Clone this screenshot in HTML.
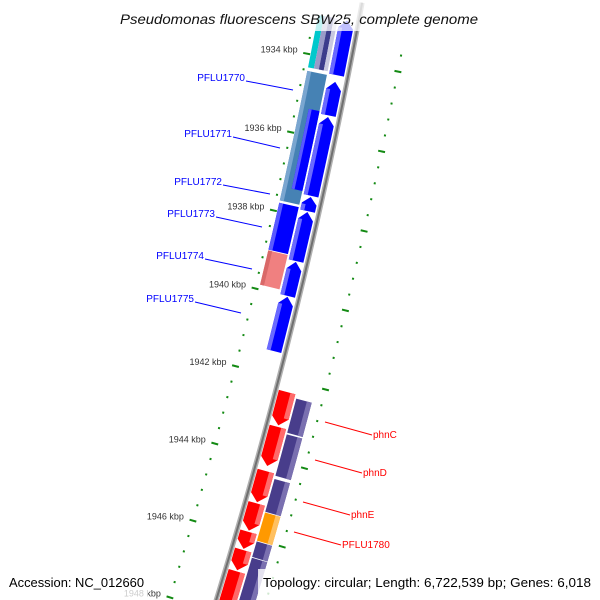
<!DOCTYPE html>
<html><head><meta charset="utf-8"><style>
html,body{margin:0;padding:0;background:#fff;width:600px;height:600px;overflow:hidden;}
svg{display:block;font-family:"Liberation Sans",sans-serif;overflow:hidden;}
</style></head><body>
<svg id="chart" width="600" height="600" viewBox="0 0 600 600" xmlns="http://www.w3.org/2000/svg">
<g id="rulers"></g>
<g id="backbone"></g>
<g id="features"></g>
<g id="labels"></g>
<rect x="112" y="0" width="376" height="31" fill="#fff" opacity="0.75"/>
<text x="120" y="24" font-size="14" font-style="italic" fill="#111" textLength="358" lengthAdjust="spacingAndGlyphs">Pseudomonas fluorescens SBW25, complete genome</text>
<rect x="0" y="570" width="148" height="30" fill="#fff" opacity="0.75"/>
<rect x="258" y="569" width="342" height="31" fill="#fff" opacity="0.8"/>
<text x="9" y="587" font-size="13" fill="#000" textLength="135" lengthAdjust="spacingAndGlyphs">Accession: NC_012660</text>
<text x="263" y="587" font-size="13" fill="#000" textLength="328" lengthAdjust="spacingAndGlyphs">Topology: circular; Length: 6,722,539 bp; Genes: 6,018</text>
</svg>
<script>
// ---- data (kbp) ----
const trackAStarts = [1933.0, 1934.55, 1935.44, 1937.47, 1937.85, 1939.12, 1940.01];
const trackAEnds   = [1934.38, 1935.40, 1937.44, 1937.83, 1939.10, 1939.99, 1941.40];
const stackStart = 1933.0, stackEnd = 1934.33;
const steelStart = 1934.42, steelEnd = 1937.72;
const gene1771Start = 1935.34, gene1771End = 1937.37;
const trackBStarts = [1937.78, 1939.00];
const trackBEnds   = [1938.98, 1939.88];
const trackBColors = ["blue", "pink"];
const trackCStarts = [1942.30, 1943.19, 1944.32, 1945.15, 1945.88, 1946.35, 1946.90];
const trackCEnds   = [1943.15, 1944.19, 1945.12, 1945.85, 1946.32, 1946.87, 1947.90];
const trackDStarts = [1942.40, 1943.31, 1944.45, 1945.31, 1946.05, 1946.47];
const trackDEnds   = [1943.27, 1944.37, 1945.29, 1946.03, 1946.45, 1947.90];
const trackDColors = ["purple", "purple", "purple", "orange", "purple", "purple"];
const majorTicks = [1934, 1936, 1938, 1940, 1942, 1944, 1946, 1948];
const tickLabels = ["1934 kbp","1936 kbp","1938 kbp","1940 kbp","1942 kbp","1944 kbp","1946 kbp","1948 kbp"];
const rulerStart = 1933.6, rulerEnd = 1948.8, rulerStep = 0.4;

// ---- geometry ----
const CX = -4946, CY = -978, T0 = 0.19393, DT = 0.0074857;
function P(k, r){ const t = T0 + (k - 1934) * DT; return [CX + r*Math.cos(t), CY + r*Math.sin(t)]; }
const NS = "http://www.w3.org/2000/svg";
function mk(tag, parent, attrs){ const e = document.createElementNS(NS, tag); for (const a in attrs) e.setAttribute(a, attrs[a]); parent.appendChild(e); return e; }
function pts(list){ return list.map(p => p[0].toFixed(2)+","+p[1].toFixed(2)).join(" "); }
function band(k1, k2, r1, r2){
  const a = [], n = 6;
  for (let i=0;i<=n;i++) a.push(P(k1+(k2-k1)*i/n, r1));
  for (let i=n;i>=0;i--) a.push(P(k1+(k2-k1)*i/n, r2));
  return pts(a);
}
function arrow(k1, k2, r1, r2, dir){
  const tl = Math.min(0.2, (k2-k1)*0.5), rm = (r1+r2)/2;
  if (dir < 0) return pts([P(k2,r1),P(k2,r2),P(k1+tl,r2),P(k1,rm),P(k1+tl,r1)]);
  return pts([P(k1,r1),P(k1,r2),P(k2-tl,r2),P(k2,rm),P(k2-tl,r1)]);
}
const gR = document.getElementById('rulers'), gB = document.getElementById('backbone'), gF = document.getElementById('features'), gL = document.getElementById('labels');

[[5353,'left'],[5446,'right']].forEach(([R, side]) => {
  const n = Math.round((rulerEnd - rulerStart)/rulerStep);
  for (let i=0;i<=n;i++){
    const k = rulerStart + i*rulerStep;
    const major = majorTicks.some(m => Math.abs(m-k) < 0.01);
    const h = major ? 3.5 : 1;
    const a = P(k, R-h), b = P(k, R+h);
    const ln = mk('line', gR, {x1:a[0],y1:a[1],x2:b[0],y2:b[1],stroke:'#138a13','stroke-width':2});
    
    
  }
});
majorTicks.forEach((m, i) => {
  const p = P(m, 5353);
  const t = mk('text', gR, {x:(p[0]-9).toFixed(1), y:(p[1]-1).toFixed(1), 'font-size':9, fill:'#333', 'text-anchor':'end'});
  t.textContent = tickLabels[i];
  
  
});

(function(){
  const a = [];
  for (let k=1932.5;k<=1948.5;k+=0.5) a.push(P(k, 5398));
  const d = 'M'+a.map(p=>p[0].toFixed(2)+','+p[1].toFixed(2)).join(' L');
  const s = mk('path', gB, {d:d, fill:'none', stroke:'#b0b0b0', 'stroke-width':5});
  
  
  const s2 = mk('path', gB, {d:d, fill:'none', stroke:'#707070', 'stroke-width':2});
  
  
})();

function feat(points, fill, name){
  const e = mk('polygon', gF, {points:points, fill:fill});
  
  
  return e;
}
function stripe(points, fill, op){
  const e = mk('polygon', gF, {points:points, fill:fill, opacity:op});
  
  
}

trackAStarts.forEach((s, i) => {
  feat(arrow(s, trackAEnds[i], 5379, 5394, -1), '#0000ff', 'gene-arrow-reverse');
  stripe(band(s+0.2, trackAEnds[i], 5379, 5383), '#6a6aff', 1);
});
feat(band(stackStart, stackEnd, 5357, 5363), '#00c8cc', 'feature-cyan');
feat(band(stackStart, stackEnd, 5363, 5368), '#9a9ac8', 'feature-lavender');
feat(band(stackStart, stackEnd, 5368, 5373), '#3c3c8c', 'feature-navy');
feat(band(stackStart, stackEnd, 5373, 5377), '#c8c8e0', 'feature-grey');
feat(band(steelStart, steelEnd, 5357, 5377), '#4682b4', 'feature-steelblue');
stripe(band(steelStart, steelEnd, 5357, 5361), '#7aa6d0', 1);
feat(band(gene1771Start, gene1771End, 5366, 5377), '#0000ff', 'gene-pflu1771');
stripe(band(gene1771Start, gene1771End, 5366, 5369), '#5a5aff', 1);
trackBStarts.forEach((s, i) => {
  const c = trackBColors[i] === 'blue' ? ['#0000ff','#5a5aff'] : ['#f08080','#d96868'];
  feat(band(s, trackBEnds[i], 5357, 5377), c[0], 'gene-block-'+trackBColors[i]);
  stripe(band(s, trackBEnds[i], 5357, 5361), c[1], 1);
});
trackCStarts.forEach((s, i) => {
  feat(arrow(s, trackCEnds[i], 5401, 5418, 1), '#ff0000', 'gene-arrow-forward');
  stripe(band(s, trackCEnds[i]-0.2, 5413, 5418), '#ff6a6a', 1);
});
trackDStarts.forEach((s, i) => {
  const c = trackDColors[i] === 'orange' ? ['#ff9900','#ffc060'] : ['#483d8b','#7a70b0'];
  feat(band(s, trackDEnds[i], 5420, 5436), c[0], 'gene-block-'+trackDColors[i]);
  stripe(band(s, trackDEnds[i], 5431, 5436), c[1], 1);
});

const blueLabels = [["PFLU1770",245,81,293,90],["PFLU1771",232,137,280,148],["PFLU1772",222,185,270,194],["PFLU1773",215,217,262,227],["PFLU1774",204,259,252,269],["PFLU1775",194,302,241,313]];
blueLabels.forEach(l => {
  const ln = mk('line', gL, {x1:l[1]+1,y1:l[2],x2:l[3],y2:l[4],stroke:'#0000ff','stroke-width':1});
  
  
  const t = mk('text', gL, {x:l[1], y:l[2], 'font-size':10, fill:'#0000ff', 'text-anchor':'end'});
  t.textContent = l[0];
  
  
});
const redLabels = [["phnC",373,438,325,422],["phnD",363,476,315,460],["phnE",351,518,303,502],["PFLU1780",342,548,294,532]];
redLabels.forEach(l => {
  const ln = mk('line', gL, {x1:l[1]-1,y1:l[2]-3,x2:l[3],y2:l[4],stroke:'#ff0000','stroke-width':1});
  
  
  const t = mk('text', gL, {x:l[1], y:l[2], 'font-size':10, fill:'#ff0000'});
  t.textContent = l[0];
  
  
});
</script>
</body></html>
